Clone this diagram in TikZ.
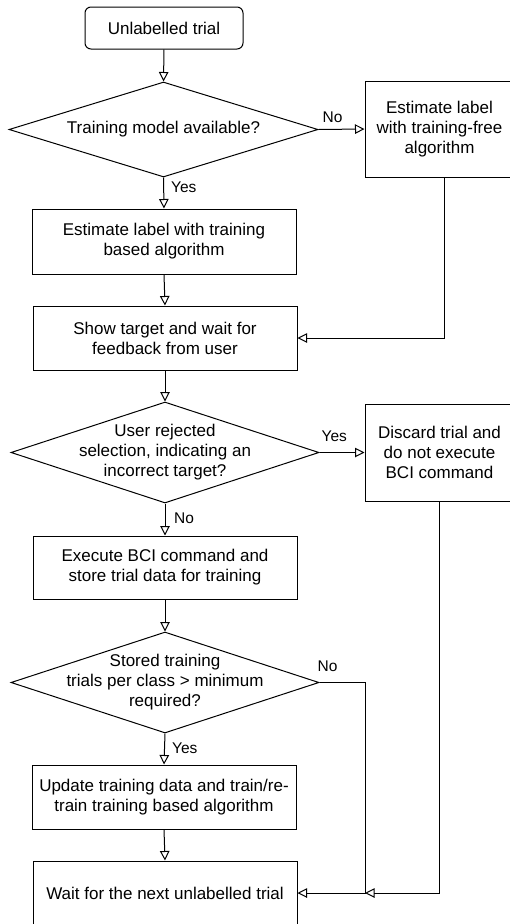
\documentclass[tikz,border=0pt]{standalone}
\usepackage{fontspec}
\setmainfont{Liberation Sans}
\usetikzlibrary{arrows.meta,shapes.geometric}
\begin{document}
\begin{tikzpicture}[x=1pt,y=-1pt,
  every node/.style={font=\fontsize{17}{20}\selectfont, text=black},
  box/.style={draw=black, line width=1pt, rectangle, minimum width=264pt, minimum height=64pt, inner sep=0pt, align=center},
  startbox/.style={draw=black, line width=1pt, rectangle, rounded corners=6pt, minimum width=158pt, minimum height=42pt, inner sep=0pt, align=center},
  sidebox/.style={draw=black, line width=1pt, rectangle, minimum width=149pt, minimum height=96pt, inner sep=0pt, align=center},
  dia/.style={draw=black, line width=1pt, diamond, minimum width=308pt, minimum height=101pt, inner sep=0pt},
  dtext/.style={align=center, inner sep=0pt},
  lbl/.style={font=\fontsize{15.5}{18}\selectfont, inner sep=0pt},
  arr/.style={draw=black, line width=1pt, -{Triangle[open,length=9.5pt,width=9.5pt]}},
  ln/.style={draw=black, line width=1pt}
]
\useasboundingbox (0,0) rectangle (510,924);
\clip (0,0) rectangle (510,924);

\node[startbox] (start) at (164,28) {Unlabelled trial};

\node[dia, minimum width=309pt, minimum height=95pt] (d1) at (163.5,129.5) {};
\node[dtext] (d1t) at (d1) {Training model available?};

\node[sidebox] (r1) at (439.5,129) {Estimate label\\with training-free\\algorithm};

\node[box, minimum height=65pt] (b2) at (164,241.5) {Estimate label with training\\based algorithm};

\node[box] (b3) at (165,338) {Show target and wait for\\feedback from user};

\node[dia] (d2) at (165,452.5) {};
\node[dtext] (d2t) at (d2) {User rejected\\selection, indicating an\\incorrect target?};

\node[sidebox, minimum height=97pt] (r2) at (439.5,452.5) {Discard trial and\\do not execute\\BCI command};

\node[box, minimum height=63pt] (b4) at (165,567.5) {Execute BCI command and\\store trial data for training};

\node[dia] (d3) at (165,682.5) {};
\node[dtext] (d3t) at (d3) {Stored training\\trials per class > minimum\\required?};

\node[box] (b5) at (164,797) {Update training data and train/re-\\train training based algorithm};

\node[box] (b6) at (165,893) {Wait for the next unlabelled trial};

% connectors
\draw[arr] (start.south) -- (d1.north);
\draw[arr] (d1.south) -- (b2.north);
\node[lbl, anchor=west] (y1) at ([xshift=7.5pt,yshift=-10pt]d1.south) {Yes};
\draw[arr] (d1.east) -- (r1.west);
\node[lbl, anchor=west] (n1) at ([xshift=4pt,yshift=12.5pt]d1.east) {No};
\draw[arr] (b2.south) -- (b3.north);
\coordinate (r1out) at ([xshift=4.5pt]r1.south);
\draw[arr] (r1out) |- (b3.east);
\draw[arr] (b3.south) -- (d2.north);
\draw[arr] (d2.east) -- (r2.west);
\node[lbl, anchor=west] (y2) at ([xshift=2pt,yshift=16.5pt]d2.east) {Yes};
\draw[arr] (d2.south) -- (b4.north);
\node[lbl, anchor=west] (n2) at ([xshift=9pt,yshift=-15pt]d2.south) {No};
\draw[arr] (b4.south) -- (d3.north);
\draw[arr] (d3.south) -- (b5.north);
\node[lbl, anchor=west] (y3) at ([xshift=7pt,yshift=-15pt]d3.south) {Yes};
\draw[arr] (b5.south) -- (b6.north);
\coordinate (j) at (365,893);
\draw[arr] (d3.east) -| (j) -- (b6.east);
\node[lbl, anchor=west] (n3) at ([xshift=-2pt,yshift=16.5pt]d3.east) {No};
\draw[arr] (r2.south) |- (j);
\end{tikzpicture}
\end{document}
